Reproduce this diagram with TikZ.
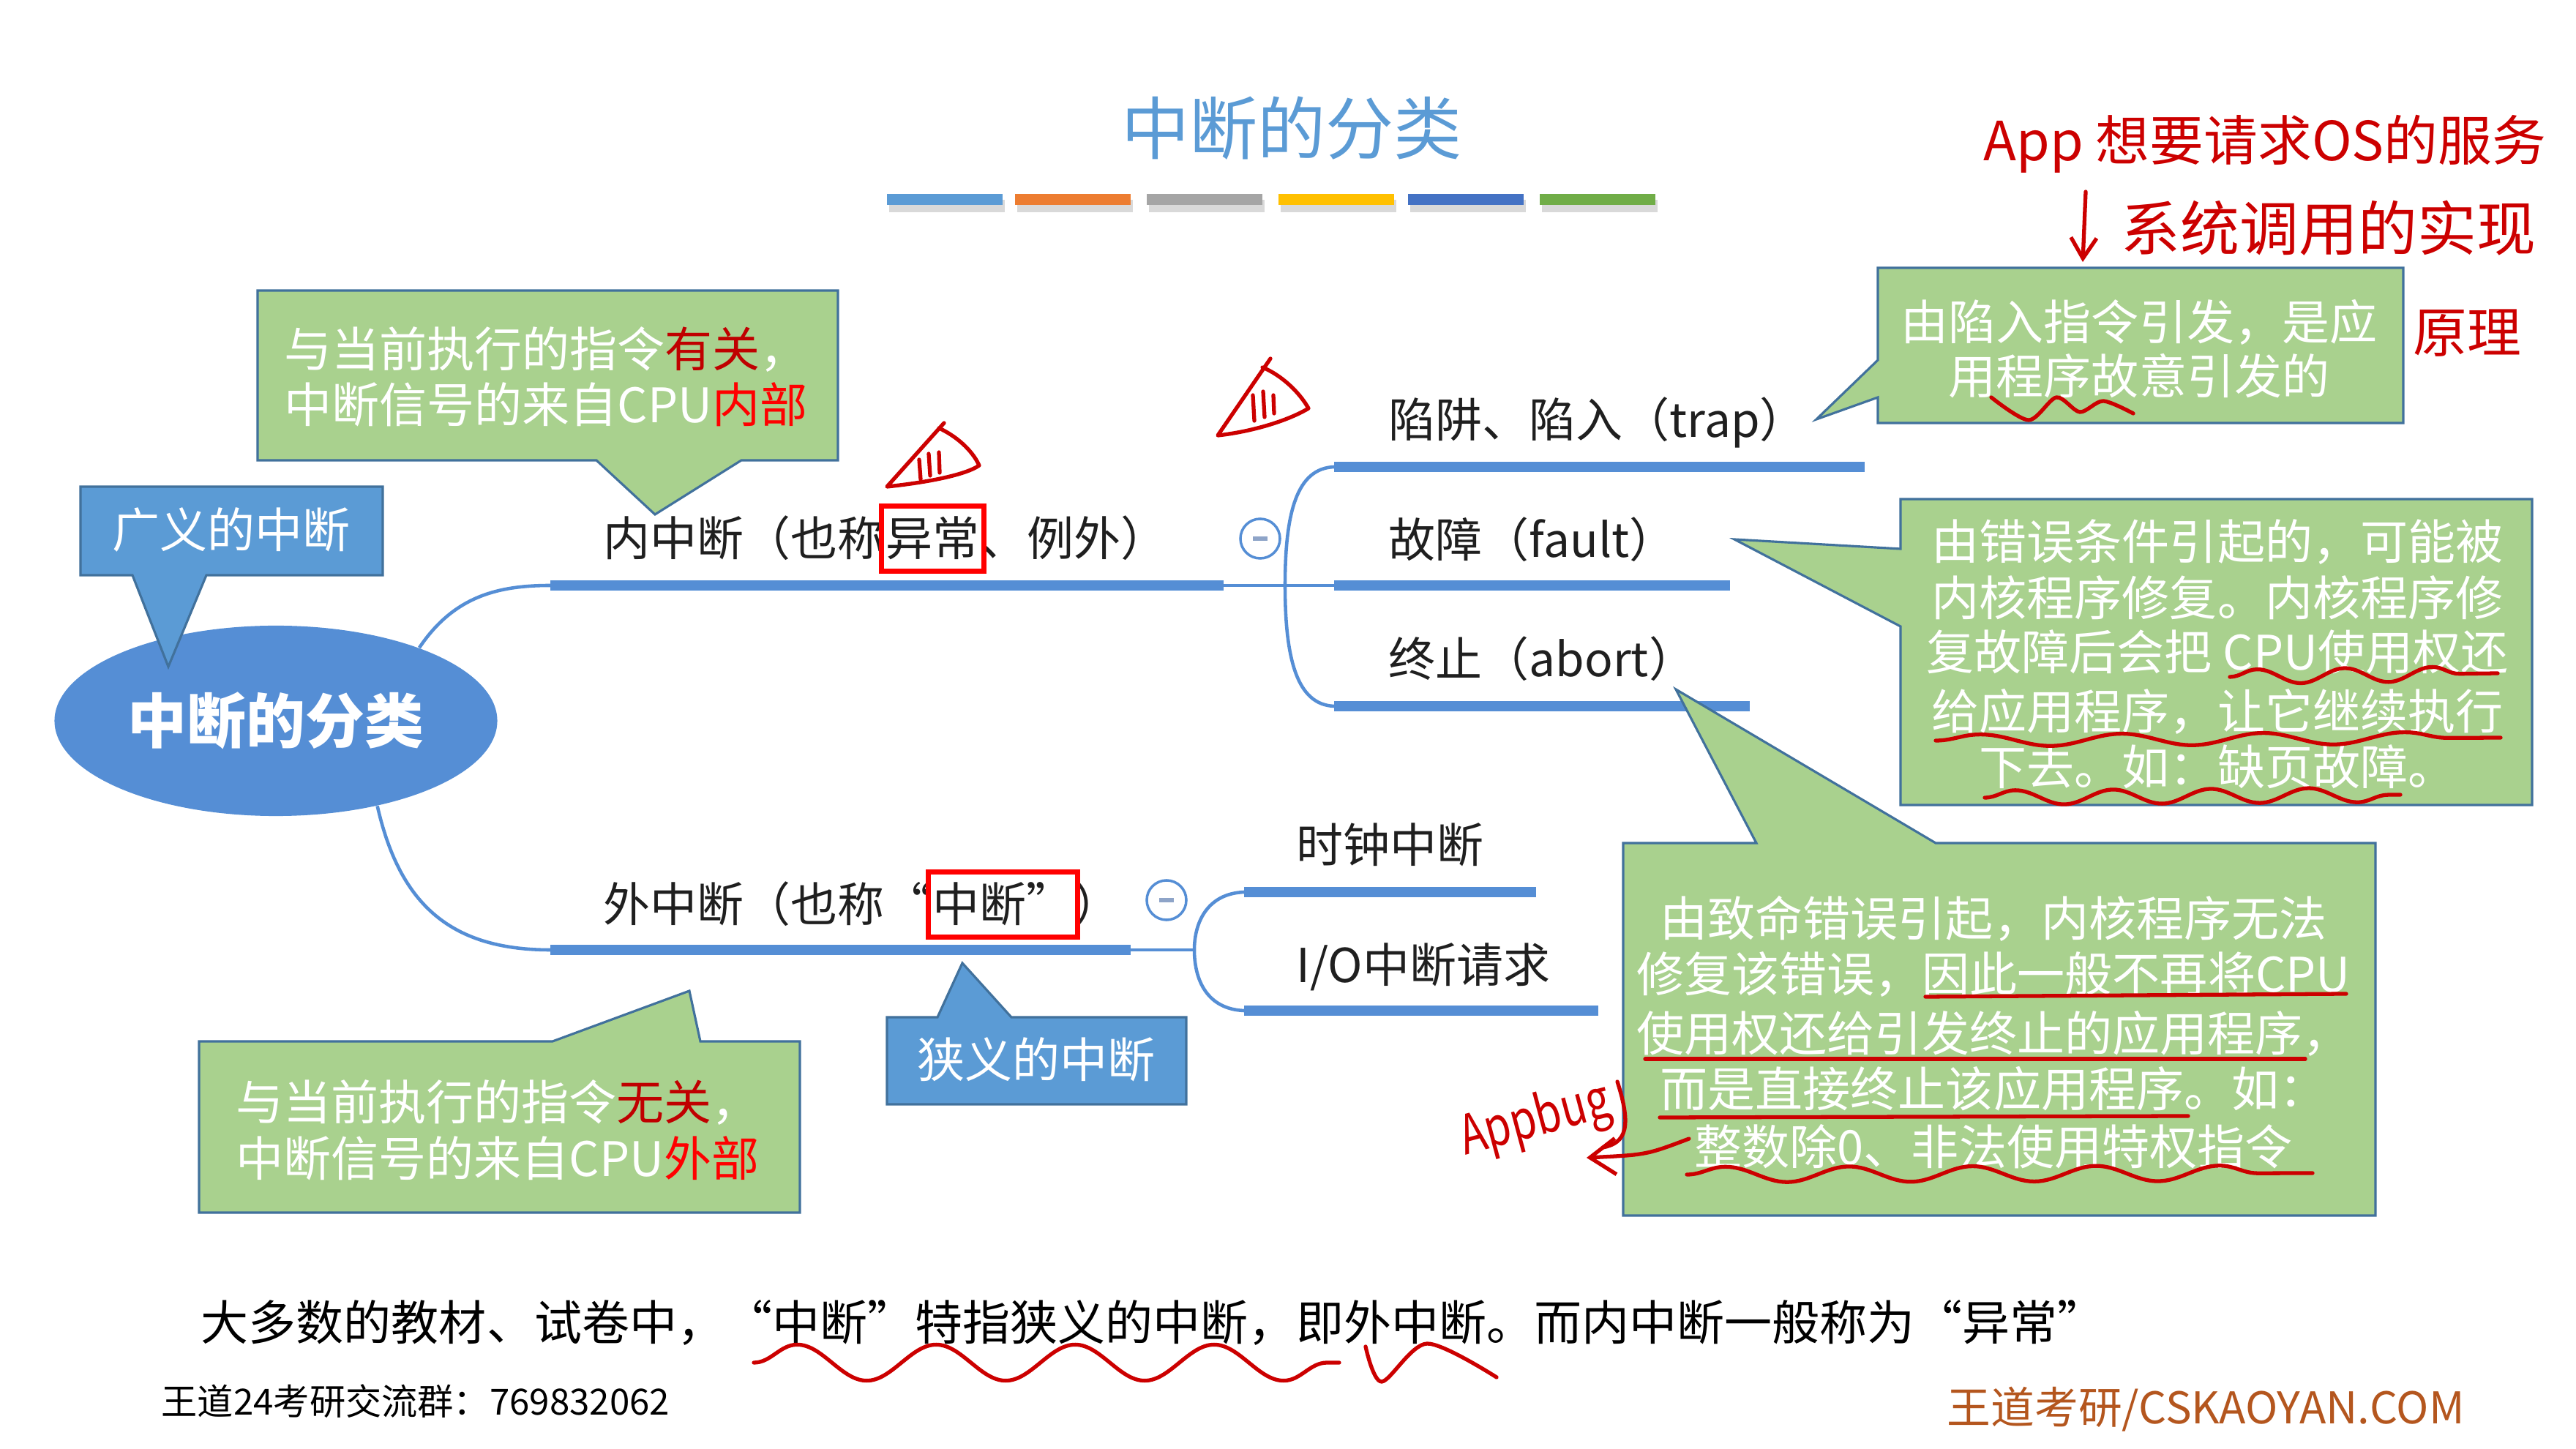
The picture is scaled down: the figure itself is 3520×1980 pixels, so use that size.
\documentclass[tikz,border=0pt]{standalone}
\usepackage{fontspec}
\setmainfont{Noto Sans CJK SC}
\usetikzlibrary{shapes.geometric,decorations.pathmorphing,arrows.meta,fit}
\definecolor{mapblue}{HTML}{558ED5}
\definecolor{boxblue}{HTML}{5B9BD5}
\definecolor{edgeblue}{HTML}{41719C}
\definecolor{callgreen}{HTML}{A9D18E}
\definecolor{darkred}{HTML}{C00000}
\definecolor{penred}{HTML}{CC0000}
\definecolor{footbrown}{HTML}{B4561E}
\definecolor{barA}{HTML}{5B9BD5}
\definecolor{barB}{HTML}{ED7D31}
\definecolor{barC}{HTML}{A5A5A5}
\definecolor{barD}{HTML}{FFC000}
\definecolor{barE}{HTML}{4472C4}
\definecolor{barF}{HTML}{70AD47}
\definecolor{minusgray}{HTML}{8EA4C8}
\begin{document}
\begin{tikzpicture}[x=0.01cm,y=-0.01cm,
  callout/.style={fill=callgreen,draw=edgeblue,line width=0.9pt,line join=miter},
  bluecall/.style={fill=boxblue,draw=edgeblue,line width=0.9pt,line join=miter},
  calltext/.style={text=white,font=\fontsize{18.5pt}{22pt}\selectfont,inner sep=0pt},
  lbl/.style={font=\fontsize{18.2pt}{21pt}\selectfont,inner sep=0pt,text=black!88},
  thickbranch/.style={mapblue,line width=4pt},
  thinbranch/.style={mapblue,line width=1.3pt},
  collapse/.style={circle,draw=mapblue,fill=white,line width=1pt,minimum size=0.54cm,inner sep=0pt},
  redbox/.style={draw=red,line width=2pt,inner xsep=1.5pt,inner ysep=4pt},
  pen/.style={penred,line width=1.5pt,line cap=round,line join=round},
  pentext/.style={text=penred,inner sep=0pt},
  wave/.style 2 args={pen,decorate,decoration={snake,amplitude=#1,segment length=#2}},
]
\useasboundingbox (0,0) rectangle (3520,1980);
\fill[white] (0,0) rectangle (3520,1980);

% title and bars
\node[font=\fontsize{26.5pt}{30pt}\selectfont,text=boxblue] (title) at (1765,175) {中断的分类};
\foreach \bx/\bc in {1212/barA,1387/barB,1567/barC,1747/barD,1924/barE,2104/barF}{
  \fill[black!15] (\bx+3,273) rectangle (\bx+161,290);
  \fill[\bc] (\bx,265) rectangle (\bx+158,280);
}

% root
\node[ellipse,fill=mapblue,minimum width=5.92cm,minimum height=2.6cm,text=white,
      font=\fontsize{23pt}{26pt}\selectfont\bfseries] (root) at (377,985) {中断的分类};

% upper branch
\coordinate (inS) at (752,800);
\coordinate (inE) at (1672,800);
\coordinate (inJ) at (1823,800);
\coordinate (trS) at (1823,638);
\coordinate (trE) at (2548,638);
\coordinate (faE) at (2364,800);
\coordinate (abS) at (1823,965);
\coordinate (abE) at (2391,965);
\draw[thinbranch] (root.27) .. controls (620,815) and (680,800) .. (inS);
\draw[thickbranch] (inS) -- (inE);
\draw[thinbranch] (inE) -- (inJ);
\draw[thinbranch] (trS) .. controls (1772,640) and (1756,700) .. (1756,800)
                        .. controls (1756,900) and (1772,963) .. (abS);
\draw[thickbranch] (trS) -- (trE);
\draw[thickbranch] (inJ) -- (faE);
\draw[thickbranch] (abS) -- (abE);
\node[collapse] (col1) at (1722,736) {};
\draw[minusgray,line width=1.6pt] (col1.center) ++(-10,0) -- ++(20,0);

% lower branch
\coordinate (exS) at (752,1298);
\coordinate (exE) at (1545,1298);
\coordinate (exJ) at (1632,1298);
\coordinate (ckS) at (1700,1219);
\coordinate (ckE) at (2099,1219);
\coordinate (ioS) at (1700,1381);
\coordinate (ioE) at (2184,1381);
\draw[thinbranch] (root.-40) .. controls (545,1230) and (610,1298) .. (exS);
\draw[thickbranch] (exS) -- (exE);
\draw[thinbranch] (exE) -- (exJ);
\draw[thinbranch] (ckS) .. controls (1650,1221) and (1632,1260) .. (exJ)
                        .. controls (1632,1340) and (1650,1379) .. (ioS);
\draw[thickbranch] (ckS) -- (ckE);
\draw[thickbranch] (ioS) -- (ioE);
\node[collapse] (col2) at (1594,1230) {};
\draw[minusgray,line width=1.6pt] (col2.center) ++(-10,0) -- ++(20,0);

% labels
\node[lbl,anchor=base west] (inl1) at (824,760) {内中断（也称};
\node[lbl,anchor=base west] (inl2) at (inl1.base east) {异常};
\node[lbl,anchor=base west] (inl3) at (inl2.base east) {、例外）};
\node[redbox,fit=(inl2)] (rb1) {};
\node[lbl,anchor=base west] (trl) at (1897,598) {陷阱、陷入（trap）};
\node[lbl,anchor=base west] (fal) at (1897,762) {故障（fault）};
\node[lbl,anchor=base west] (abl) at (1897,925) {终止（abort）};
\node[lbl,anchor=base west] (exl1) at (824,1260) {外中断（也称“};
\node[lbl,anchor=base west] (exl2) at (exl1.base east) {中断”};
\node[lbl,anchor=base west] (exl3) at (exl2.base east) {）};
\node[redbox,fit=(exl2)] (rb2) {};
\node[lbl,anchor=base west] (ckl) at (1771,1179) {时钟中断};
\node[lbl,anchor=base west] (iol) at (1771,1343) {I/O中断请求};

% callout: upper left
\draw[callout] (352,397) -- (1145,397) -- (1145,629) -- (1013,629) -- (895,703) -- (815,629) -- (352,629) -- cycle;
\node[calltext] (ul1) at (746,478) {与当前执行的指令\textcolor{darkred}{有关}，};
\node[calltext] (ul2) at (746,553) {中断信号的来自CPU\textcolor{red}{内部}};

% callout: lower left
\draw[callout] (272,1423) -- (755,1423) -- (942,1354) -- (957,1423) -- (1093,1423) -- (1093,1657) -- (272,1657) -- cycle;
\node[calltext] (ll1) at (680,1506) {与当前执行的指令\textcolor{darkred}{无关}，};
\node[calltext] (ll2) at (680,1583) {中断信号的来自CPU\textcolor{red}{外部}};

% blue callouts
\draw[bluecall] (110,665) -- (523,665) -- (523,786) -- (282,786) -- (230,911) -- (181,786) -- (110,786) -- cycle;
\node[calltext] (broad) at (316,724) {广义的中断};
\draw[bluecall] (1212,1390) -- (1281,1390) -- (1315,1316) -- (1382,1390) -- (1621,1390) -- (1621,1509) -- (1212,1509) -- cycle;
\node[calltext] (narrow) at (1416,1448) {狭义的中断};

% trap callout
\draw[callout] (2566,366) -- (3284,366) -- (3284,578) -- (2566,578) -- (2566,543) -- (2482,573) -- (2566,492) -- cycle;
\node[calltext] (tp1) at (2923,440) {由陷入指令引发，是应};
\node[calltext] (tp2) at (2923,514) {用程序故意引发的};

% fault callout
\draw[callout] (2597,682) -- (3460,682) -- (3460,1100) -- (2597,1100) -- (2597,856) -- (2370,737) -- (2597,750) -- cycle;
\node[calltext] (ft1) at (3030,741) {由错误条件引起的，可能被};
\node[calltext] (ft2) at (3030,817) {内核程序修复。内核程序修};
\node[calltext] (ft3) at (3030,891) {复故障后会把 CPU使用权还};
\node[calltext] (ft4) at (3030,972) {给应用程序，让它继续执行};
\node[calltext] (ft5) at (3030,1048) {下去。如：缺页故障。};

% abort callout
\draw[callout] (2218,1152) -- (2400,1152) -- (2290,942) -- (2645,1152) -- (3246,1152) -- (3246,1661) -- (2218,1661) -- cycle;
\node[calltext] (ab1) at (2724,1255) {由致命错误引起，内核程序无法};
\node[calltext] (ab2) at (2724,1331) {修复该错误，因此一般不再将CPU};
\node[calltext] (ab3) at (2724,1412) {使用权还给引发终止的应用程序，};
\node[calltext] (ab4) at (2724,1488) {而是直接终止该应用程序。如：};
\node[calltext] (ab5) at (2724,1567) {整数除0、非法使用特权指令};

% bottom texts
\node[anchor=west,inner sep=0pt,font=\fontsize{18.5pt}{22pt}\selectfont] (note) at (274,1807)
  {大多数的教材、试卷中，“中断”特指狭义的中断，即外中断。而内中断一般称为“异常”};
\node[anchor=west,inner sep=0pt,font=\fontsize{14pt}{16pt}\selectfont] (group) at (220,1915) {王道24考研交流群：769832062};
\node[anchor=west,inner sep=0pt,text=footbrown,font=\fontsize{17pt}{20pt}\selectfont] (site) at (2660,1926) {王道考研/CSKAOYAN.COM};

% red pen annotations
\draw[pen] (1290,578) -- (1212,665) .. controls (1260,660) and (1318,650) .. (1338,636)
           .. controls (1328,614) and (1305,595) .. (1283,585);
\draw[pen] (1256,628) -- (1258,655) (1269,620) -- (1271,650) (1283,618) -- (1284,646);
\draw[pen] (1736,490) -- (1664,595) .. controls (1710,590) and (1760,575) .. (1788,558)
           .. controls (1775,535) and (1750,512) .. (1725,502);
\draw[pen] (1712,540) -- (1714,575) (1726,535) -- (1728,570) (1740,540) -- (1741,565);

\draw[pen] plot[smooth] coordinates {(2721,543) (2772,574) (2810,543) (2842,563) (2874,548) (2915,565)};
\draw[wave={2.8pt}{34pt}] (3047,925) -- (3413,920);
\draw[wave={2.3pt}{55pt}] (2645,1012) -- (3417,1008);
\draw[wave={2.8pt}{38pt}] (2712,1090) -- (3280,1086);
\draw[pen] (2631,1362) -- (3206,1358);
\draw[pen] (2248,1447) -- (3150,1447);
\draw[pen] (2268,1527) -- (2990,1525);
\draw[wave={3pt}{48pt}] (2305,1605) -- (3160,1603);
\draw[wave={7pt}{54pt}] (1030,1862) -- (1830,1862);
\draw[pen] plot[smooth] coordinates {(1866,1840) (1888,1888) (1950,1836) (2045,1882)};

\node[pentext,rotate=15,font=\fontsize{21pt}{24pt}\selectfont,xscale=0.78] (appbug) at (2098,1532) {Appbug};
\draw[pen] (2210,1478) .. controls (2230,1540) and (2222,1562) .. (2190,1568);
\draw[pen,-{Straight Barb[length=10pt,width=14pt]}] (2308,1556) .. controls (2250,1578) .. (2168,1582);

\node[pentext,font=\fontsize{21pt}{24pt}\selectfont] (hw1) at (3095,197) {App 想要请求OS的服务};
\draw[pen,-{Straight Barb[length=8pt,width=10pt]}] (2850,262) -- (2846,358);
\node[pentext,font=\fontsize{23pt}{26pt}\selectfont] (hw2) at (3182,312) {系统调用的实现};
\node[pentext,font=\fontsize{21pt}{24pt}\selectfont] (hw3) at (3371,455) {原理};
\end{tikzpicture}
\end{document}
